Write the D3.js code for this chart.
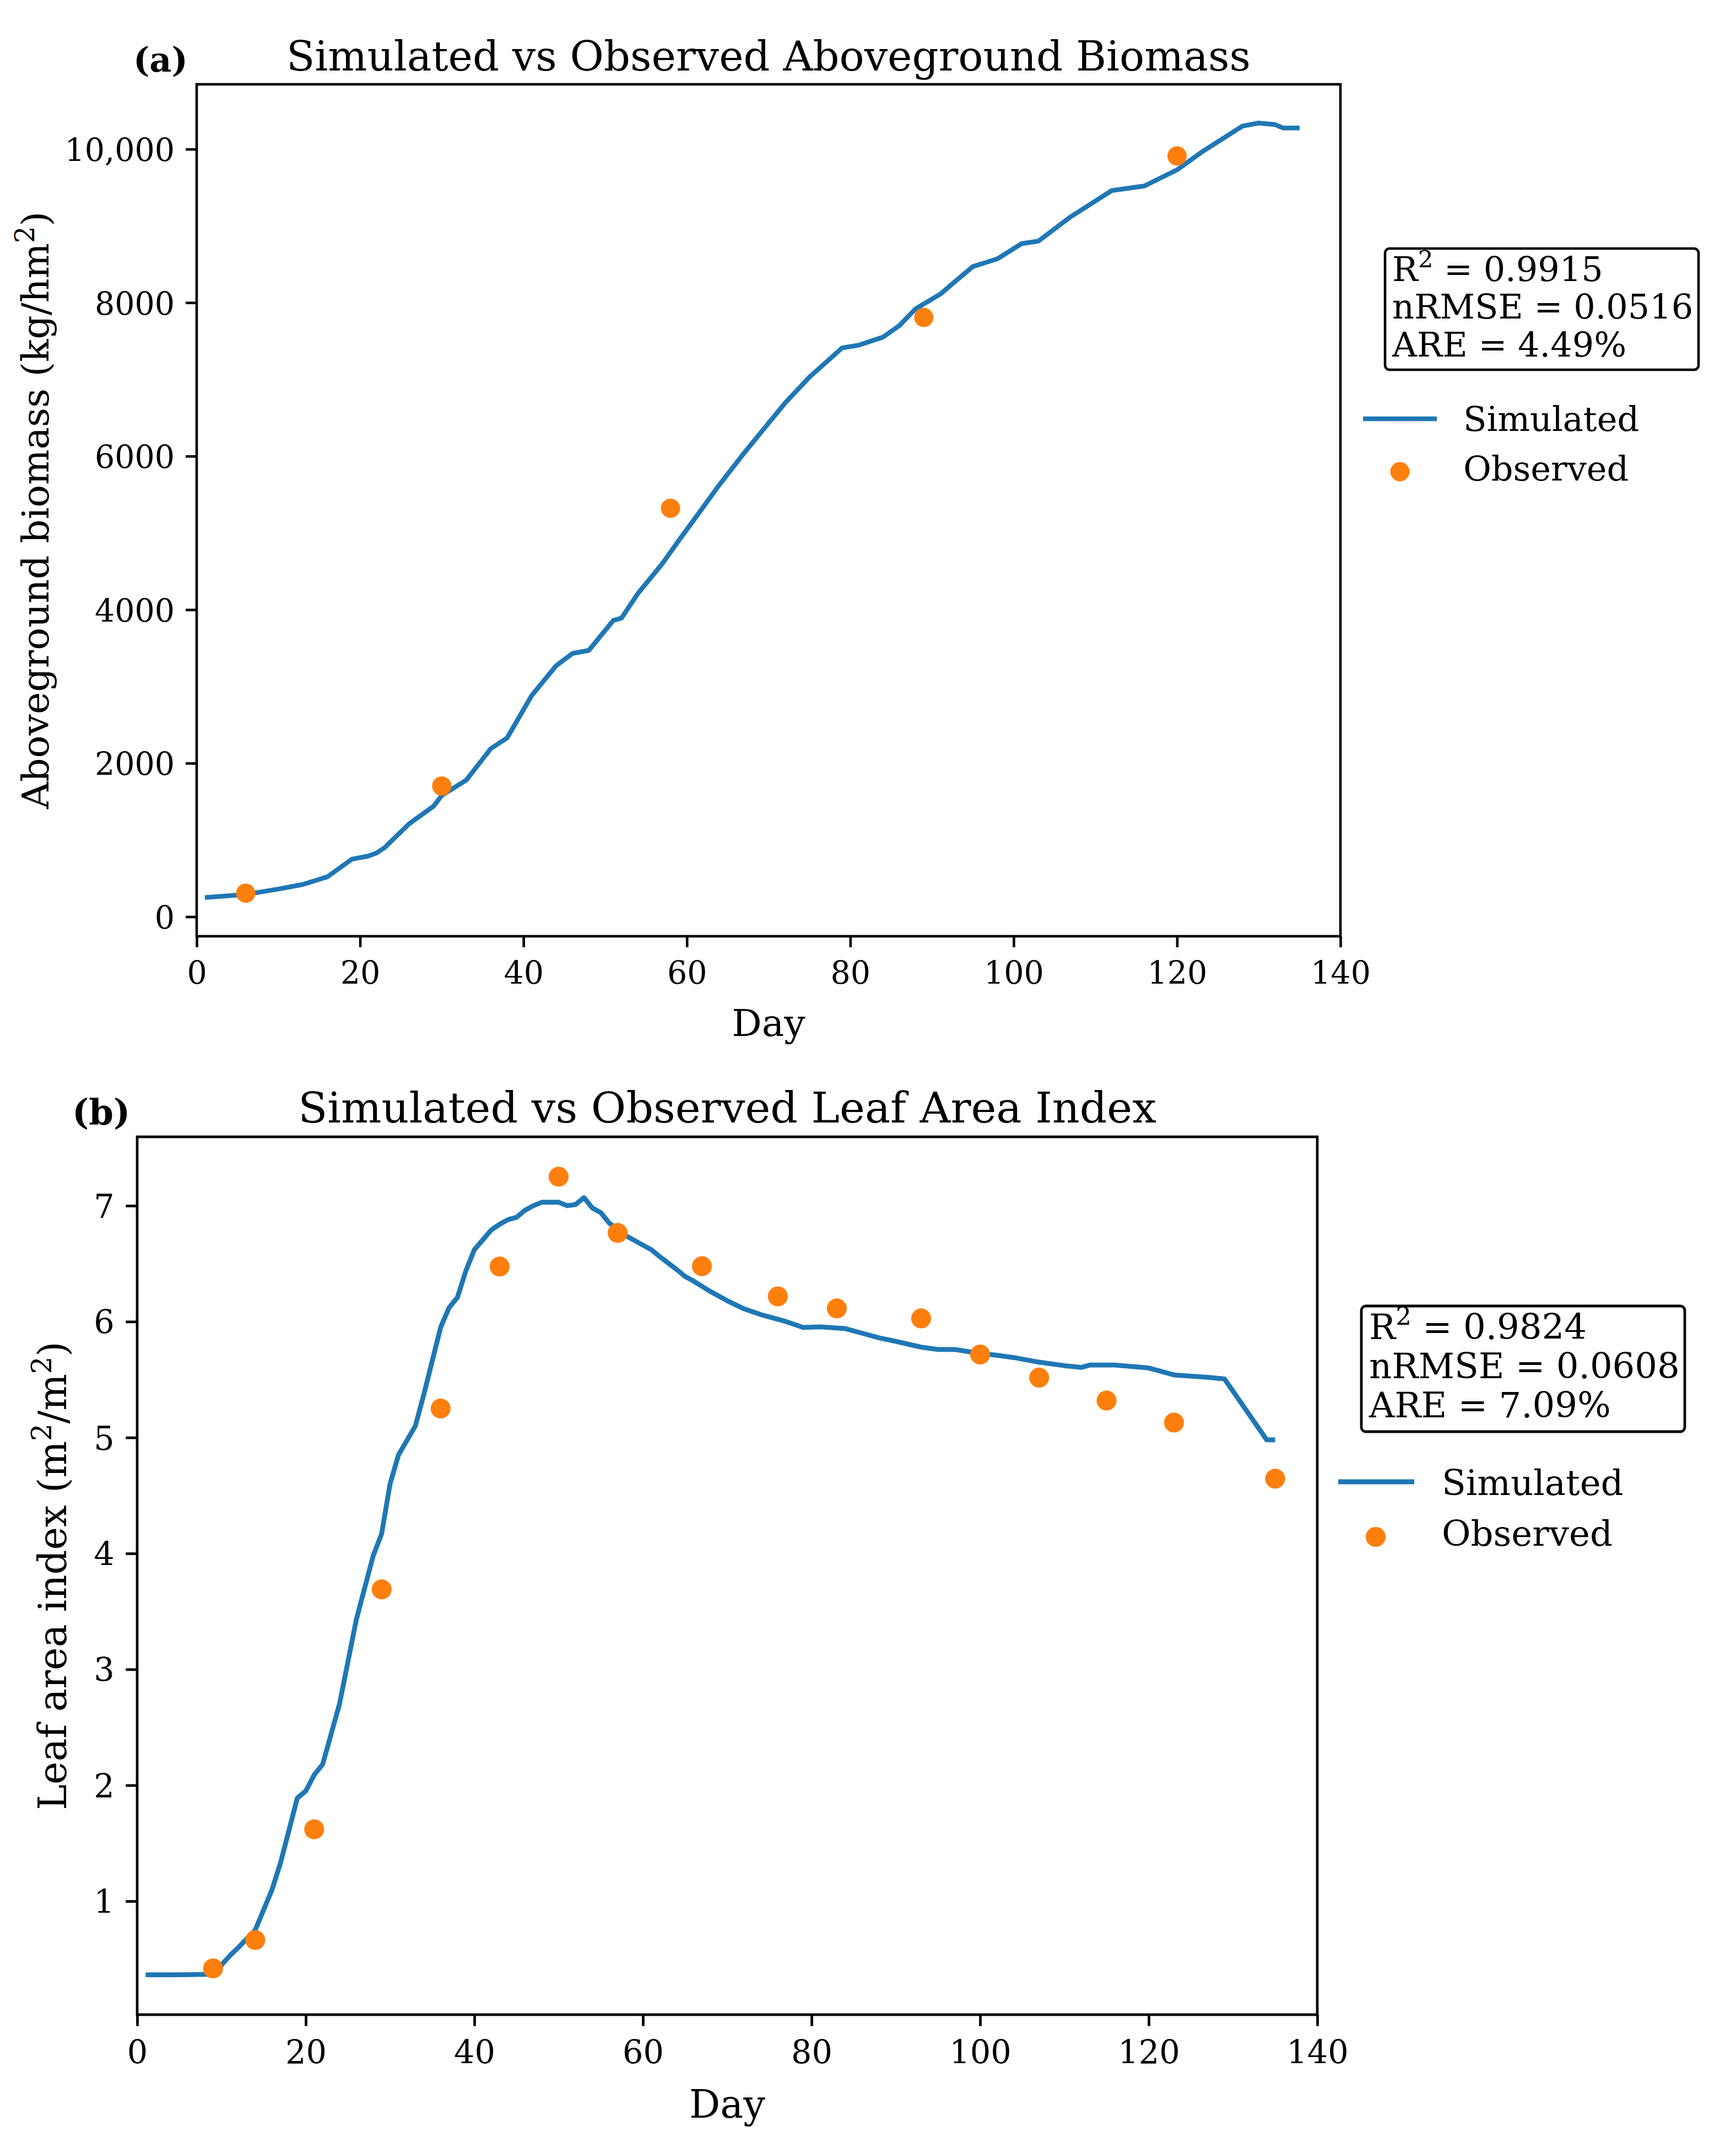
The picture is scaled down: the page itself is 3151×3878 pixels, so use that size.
<!DOCTYPE html>
<html><head><meta charset="utf-8">
<script src="https://cdn.jsdelivr.net/npm/d3@7"></script>
<style>body{margin:0;background:#fff}svg{display:block}</style>
</head><body>
<svg id="chart" width="3151" height="3878"></svg>
<script>
// ---------- Data ----------
const biomassSimDays   = [1,6,10,13,16,19,21,22,23,26,29,30,33,36,38,41,44,46,48,51,52,54,57,59,61,64,67,70,72,75,79,81,84,86,88,91,95,98,101,103,107,112,116,120,123,128,130,132,133,135];
const biomassSimValues = [250,290,360,420,520,750,790,830,900,1210,1440,1580,1780,2190,2330,2880,3270,3430,3470,3860,3890,4210,4600,4900,5190,5630,6040,6430,6690,7030,7410,7445,7550,7700,7920,8110,8470,8570,8770,8800,9120,9460,9520,9730,9960,10300,10340,10320,10275,10275];
const biomassObsDays   = [6,30,58,89,120];
const biomassObsValues = [306,1702,5321,7807,9911];

const laiSimDays   = [1,5,9,10,11,12,14,16,17,19,20,21,22,24,26,28,29,30,31,33,34,36,37,38,39,40,42,43,44,45,46,47,48,50,51,52,53,54,55,56,58,60,61,62,64,65,66,68,70,72,74,77,79,81,84,86,88,90,93,95,97,100,102,104,107,110,112,113,116,120,123,127,129,134,135];
const laiSimValues = [0.365,0.365,0.37,0.45,0.53,0.6,0.75,1.1,1.33,1.89,1.95,2.09,2.18,2.7,3.43,3.98,4.17,4.6,4.85,5.1,5.37,5.95,6.12,6.21,6.44,6.62,6.79,6.84,6.88,6.9,6.96,7.0,7.03,7.03,7.0,7.01,7.07,6.98,6.94,6.85,6.74,6.66,6.62,6.56,6.45,6.39,6.35,6.26,6.18,6.11,6.06,6.0,5.95,5.955,5.94,5.9,5.86,5.83,5.78,5.76,5.76,5.725,5.71,5.69,5.65,5.62,5.605,5.625,5.625,5.6,5.54,5.52,5.505,4.98,4.98];
const laiObsDays   = [9,14,21,29,36,43,50,57,67,76,83,93,100,107,115,123,135];
const laiObsValues = [0.42,0.665,1.62,3.69,5.25,6.475,7.25,6.765,6.478,6.218,6.114,6.028,5.716,5.517,5.319,5.129,4.645];

const xTicks = [0,20,40,60,80,100,120,140];
const biomassYTicks = [0,2000,4000,6000,8000,10000];
const biomassYTickLabels = ["0","2000","4000","6000","8000","10,000"];
const laiYTicks = [1,2,3,4,5,6,7];
const laiYTickLabels = ["1","2","3","4","5","6","7"];

const statNames = ["R", "nRMSE = ", "ARE = "];
const biomassStats = ["0.9915","0.0516","4.49%"];
const laiStats = ["0.9824","0.0608","7.09%"];
const legendLabels = ["Simulated","Observed"];

// ---------- Styles ----------
const FONT = "'DejaVu Serif', serif";
const BLUE = "#1f77b4", ORANGE = "#ff7f0e";
const svg = d3.select("#chart");

function pad(ext){ const r = ext[1]-ext[0]; return [ext[0]-0.05*r, ext[1]+0.05*r]; }

function panel(cfg){
  const s = cfg.scale;
  const g = svg.append("g");
  const x = d3.scaleLinear().domain([0,140]).range([cfg.left, cfg.right]);
  const yExt = d3.extent(cfg.simValues.concat(cfg.obsValues));
  const y = d3.scaleLinear().domain(pad(yExt)).range([cfg.bottom, cfg.top]);

  const pts = cfg.simDays.map((d,i)=>[d, cfg.simValues[i]]);
  g.append("path").datum(pts)
    .attr("d", d3.line().x(d=>x(d[0])).y(d=>y(d[1])))
    .attr("fill","none").attr("stroke",BLUE).attr("stroke-width",8.5*s)
    .attr("stroke-linejoin","round").attr("stroke-linecap","butt");
  g.selectAll("circle.obs").data(cfg.obsDays.map((d,i)=>[d,cfg.obsValues[i]]))
    .enter().append("circle").attr("class","obs")
    .attr("cx",d=>x(d[0])).attr("cy",d=>y(d[1])).attr("r",17.5*s).attr("fill",ORANGE);

  const xa = g.append("g").attr("transform",`translate(0,${cfg.bottom})`)
    .call(d3.axisBottom(x).tickValues(xTicks).tickSize(20*s).tickPadding(26*s).tickFormat(d3.format("d")));
  const ya = g.append("g").attr("transform",`translate(${cfg.left},0)`)
    .call(d3.axisLeft(y).tickValues(cfg.yTicks).tickSize(20*s).tickPadding(20*s)
      .tickFormat((d,i)=>cfg.yTickLabels[i]));
  [xa,ya].forEach(a=>{
    a.select(".domain").remove();
    a.selectAll(".tick line").attr("stroke","#000").attr("stroke-width",4.6*s);
    a.selectAll(".tick text").attr("font-family",FONT).attr("font-size",57*s).attr("fill","#000");
  });
  ya.selectAll(".tick text").attr("dy","0.365em");

  g.append("rect").attr("x",cfg.left).attr("y",cfg.top)
    .attr("width",cfg.right-cfg.left).attr("height",cfg.bottom-cfg.top)
    .attr("fill","none").attr("stroke","#000").attr("stroke-width",4.6*s);

  g.append("text").attr("x",(cfg.left+cfg.right)/2).attr("y",cfg.top-25*s)
    .attr("text-anchor","middle").attr("font-family",FONT).attr("font-size",cfg.titleSize)
    .text(cfg.title);
  g.append("text").attr("x",cfg.letterX).attr("y",cfg.letterY)
    .attr("font-family",FONT).attr("font-weight","bold").attr("font-size",62*s)
    .text(cfg.letter);
  g.append("text").attr("x",(cfg.left+cfg.right)/2).attr("y",cfg.bottom+181*s)
    .attr("text-anchor","middle").attr("font-family",FONT).attr("font-size",68*s).text("Day");
  const yl = g.append("text")
    .attr("transform",`translate(${cfg.ylabelX},${(cfg.top+cfg.bottom)/2}) rotate(-90)`)
    .attr("text-anchor","middle").attr("font-family",FONT).attr("font-size",68*s);
  yl.append("tspan").text(cfg.ylabel[0]);
  yl.append("tspan").attr("font-size",48*s).attr("dy",-26*s).text("2");
  yl.append("tspan").attr("dy",26*s).text(cfg.ylabel[1]);
  if (cfg.ylabel.length>2){
    yl.append("tspan").attr("font-size",48*s).attr("dy",-26*s).text("2");
    yl.append("tspan").attr("dy",26*s).text(cfg.ylabel[2]);
  }

  const b = cfg.box;
  g.append("rect").attr("x",b.x0).attr("y",b.y0).attr("width",b.x1-b.x0).attr("height",b.y1-b.y0)
    .attr("rx",8).attr("fill","#fff").attr("stroke","#000").attr("stroke-width",4.6*s);
  const st = cfg.stats;
  b.baselines.forEach((yy,i)=>{
    const t = g.append("text").attr("x",b.tx).attr("y",yy)
      .attr("font-family",FONT).attr("font-size",cfg.statSize);
    if(i===0){
      t.append("tspan").text("R");
      t.append("tspan").attr("font-size",cfg.statSize*0.7).attr("dy",-25*s).text("2");
      t.append("tspan").attr("dy",25*s).text(" = "+st[0]);
    } else {
      t.text(statNames[i]+st[i]);
    }
  });

  const L = cfg.legend;
  g.append("line").attr("x1",L.lx0).attr("x2",L.lx1).attr("y1",L.ly).attr("y2",L.ly)
    .attr("stroke",BLUE).attr("stroke-width",8.5*s);
  g.append("text").attr("x",L.tx).attr("y",L.ly+L.toff).attr("font-family",FONT).attr("font-size",62*s).text(legendLabels[0]);
  g.append("circle").attr("cx",L.mx).attr("cy",L.my).attr("r",17.5*s).attr("fill",ORANGE);
  g.append("text").attr("x",L.tx).attr("y",L.my+L.toff2).attr("font-family",FONT).attr("font-size",62*s).text(legendLabels[1]);
}

panel({
  scale:1.0, titleSize:75, statSize:62,
  left:357, right:2433, top:153, bottom:1699,
  simDays:biomassSimDays, simValues:biomassSimValues,
  obsDays:biomassObsDays, obsValues:biomassObsValues,
  yTicks:biomassYTicks, yTickLabels:biomassYTickLabels,
  title:"Simulated vs Observed Aboveground Biomass",
  letter:"(a)", letterX:242, letterY:130,
  ylabelX:88, ylabel:["Aboveground biomass (kg/hm",")"],
  stats:biomassStats,
  box:{x0:2514,x1:3083,y0:451,y1:671,tx:2527,baselines:[510,578,647]},
  legend:{lx0:2474,lx1:2608,ly:760,tx:2656,toff:22,mx:2541,my:856,toff2:16}
});

panel({
  scale:1.033, titleSize:77.5, statSize:64,
  left:249, right:2391, top:2063, bottom:3656,
  simDays:laiSimDays, simValues:laiSimValues,
  obsDays:laiObsDays, obsValues:laiObsValues,
  yTicks:laiYTicks, yTickLabels:laiYTickLabels,
  title:"Simulated vs Observed Leaf Area Index",
  letter:"(b)", letterX:131, letterY:2040,
  ylabelX:120, ylabel:["Leaf area index (m","/m",")"],
  stats:laiStats,
  box:{x0:2471,x1:3058,y0:2370,y1:2598,tx:2485,baselines:[2430,2501,2572]},
  legend:{lx0:2429,lx1:2567,ly:2689,tx:2617,toff:24,mx:2497,my:2789,toff2:16}
});
</script>
</body></html>
